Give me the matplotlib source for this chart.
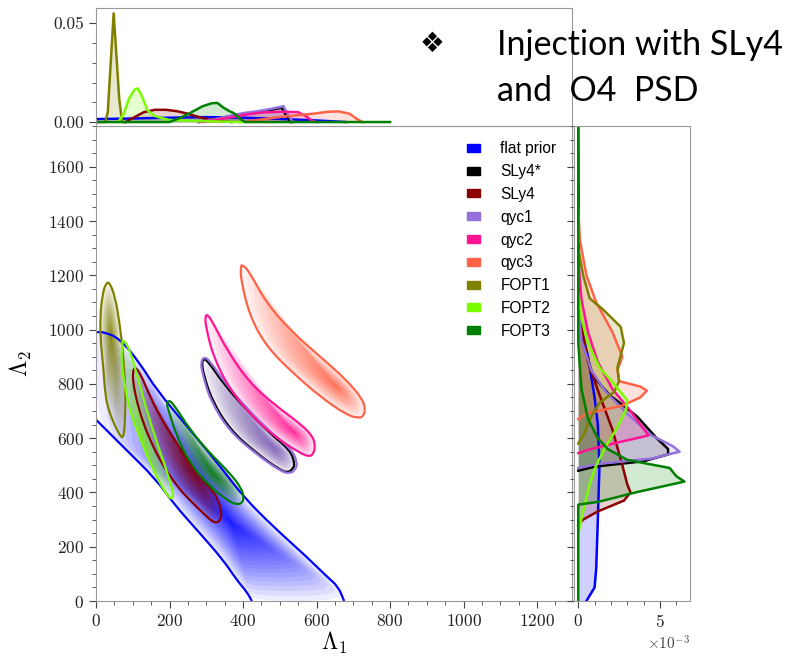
import numpy as np
import matplotlib.pyplot as plt
from matplotlib.patches import Patch, PathPatch
from matplotlib.path import Path
from matplotlib.ticker import MultipleLocator, FormatStrFormatter

plt.rcParams['font.family'] = 'cmr10'
plt.rcParams['mathtext.fontset'] = 'cm'
plt.rcParams['axes.formatter.use_mathtext'] = True

labels = ['flat prior', 'SLy4*', 'SLy4', 'qyc1', 'qyc2', 'qyc3', 'FOPT1', 'FOPT2', 'FOPT3']
colors = ['blue', 'black', 'darkred', 'mediumpurple', 'deeppink', 'tomato', 'olive', 'lawngreen', 'green']

# --- 2D credible contours (Lambda1, Lambda2) ---
prior_up_l1 = [0, 20, 65, 120, 165, 256, 346, 401, 482, 573, 628, 659, 675]
prior_up_l2 = [990, 992, 967, 875, 777, 630, 482, 384, 274, 163, 90, 53, 0]
prior_lo_l1 = [0, 74, 165, 210, 283, 346, 383, 410, 424]
prior_lo_l2 = [668, 568, 446, 360, 249, 151, 77, 34, 0]

sly4s_l1 = [292, 306, 346, 410, 473, 528, 541, 536, 523, 501, 437, 365, 315, 292, 288]
sly4s_l2 = [894, 881, 802, 703, 618, 556, 507, 488, 473, 482, 544, 630, 740, 839, 875]
sly4_l1 = [106, 120, 142, 165, 192, 220, 250, 283, 315, 333, 342, 338, 325, 310, 292, 260,
           229, 200, 174, 150, 129, 112, 101, 100]
sly4_l2 = [863, 839, 770, 703, 640, 581, 518, 458, 410, 372, 324, 296, 287, 300, 323, 365,
           409, 463, 519, 585, 654, 730, 802, 845]
qyc1_l1 = [294, 310, 350, 413, 476, 532, 548, 543, 528, 502, 436, 362, 311, 289, 285]
qyc1_l2 = [900, 885, 805, 706, 621, 559, 510, 485, 469, 478, 541, 627, 739, 840, 880]
qyc2_l1 = [301, 315, 356, 419, 492, 555, 591, 596, 592, 582, 555, 492, 428, 365, 319, 299, 297]
qyc2_l2 = [1057, 1035, 924, 802, 716, 654, 605, 568, 545, 531, 545, 600, 675, 777, 900, 1010, 1045]
qyc3_l1 = [396, 415, 464, 537, 610, 682, 727, 732, 728, 718, 682, 610, 537, 464, 419, 394, 394]
qyc3_l2 = [1240, 1219, 1096, 986, 900, 814, 740, 703, 684, 673, 685, 753, 838, 937, 1047, 1182, 1230]
fopt1_l1 = [36, 52, 64, 73, 79, 80, 79, 77, 73, 64, 50, 35, 25, 20, 13, 11, 18, 27]
fopt1_l2 = [1176, 1121, 1023, 924, 802, 740, 680, 630, 599, 612, 650, 700, 760, 860, 949, 1047, 1133, 1170]
fopt2_l1 = [74, 92, 105, 120, 138, 158, 179, 198, 210, 208, 197, 180, 165, 147, 129, 110, 92, 80, 70, 70]
fopt2_l2 = [967, 924, 863, 790, 703, 615, 531, 455, 397, 375, 384, 420, 458, 512, 568, 635, 703, 780, 863, 935]
fopt3_l1 = [197, 210, 256, 310, 365, 396, 402, 398, 383, 356, 310, 256, 220, 197, 192]
fopt3_l2 = [740, 728, 630, 544, 470, 415, 380, 362, 354, 372, 421, 507, 605, 703, 725]

# densest point of each 2D posterior
peaks = [(370, 285), (480, 570), (270, 470), (490, 560), (540, 620),
         (655, 790), (40, 980), (125, 600), (320, 465)]
shade_alpha = [0.07, 0.025, 0.07, 0.06, 0.07, 0.07, 0.07, 0.06, 0.07]

# --- marginal of Lambda1 (top panel) ---
top_prior_x = [0, 100, 200, 300, 400, 500, 600, 680]
top_prior_y = [0.0015, 0.0018, 0.0022, 0.0025, 0.0022, 0.0016, 0.0008, 0]
top_sly4s_x = [280, 320, 360, 400, 440, 480, 505, 515, 530]
top_sly4s_y = [0, 0.0012, 0.0028, 0.004, 0.005, 0.0063, 0.0073, 0.004, 0]
top_sly4_x = [80, 100, 130, 160, 190, 220, 250, 280, 310, 340, 370]
top_sly4_y = [0, 0.002, 0.005, 0.0062, 0.0062, 0.0055, 0.0042, 0.0025, 0.0012, 0.0004, 0]
top_qyc1_x = [280, 320, 360, 400, 440, 480, 510, 520, 535]
top_qyc1_y = [0, 0.0013, 0.003, 0.0045, 0.0055, 0.0068, 0.008, 0.0045, 0]
top_qyc2_x = [290, 330, 370, 410, 450, 500, 550, 570, 590, 600]
top_qyc2_y = [0, 0.0012, 0.0025, 0.0038, 0.0048, 0.0052, 0.005, 0.003, 0.0005, 0]
top_qyc3_x = [390, 430, 470, 510, 550, 590, 630, 660, 690, 710, 725]
top_qyc3_y = [0, 0.0008, 0.0018, 0.0028, 0.0035, 0.0042, 0.0052, 0.0054, 0.0042, 0.0015, 0]
top_fopt1_x = [0, 25, 32, 40, 48, 55, 63, 71, 80]
top_fopt1_y = [0, 0, 0.005, 0.03, 0.055, 0.035, 0.012, 0, 0]
top_fopt2_x = [60, 75, 90, 105, 114, 125, 140, 160, 200, 300, 400]
top_fopt2_y = [0, 0.004, 0.012, 0.0165, 0.017, 0.013, 0.006, 0.003, 0.001, 0.0004, 0]
top_fopt3_x = [0, 200, 230, 260, 290, 315, 330, 345, 360, 375, 390, 405, 800]
top_fopt3_y = [0, 0, 0.0022, 0.005, 0.008, 0.0095, 0.0097, 0.0075, 0.0058, 0.0045, 0.002, 0, 0]

# --- marginal of Lambda2 (right panel) ---
rt_prior_y = [0, 50, 120, 300, 500, 650, 750, 900, 1000, 1100, 1750]
rt_prior_x = [0.0005, 0.001, 0.0011, 0.0012, 0.0013, 0.0012, 0.001, 0.0006, 0.0002, 0.00005, 0]
rt_sly4s_y = [480, 495, 515, 540, 560, 600, 680, 760, 830, 950, 1080]
rt_sly4s_x = [0, 0.001, 0.004, 0.0055, 0.0055, 0.0048, 0.0036, 0.0019, 0.0009, 0.0003, 0]
rt_sly4_y = [280, 300, 330, 370, 400, 430, 500, 630, 760, 880, 1010, 1100]
rt_sly4_x = [0, 0.0003, 0.0012, 0.0028, 0.0032, 0.003, 0.0027, 0.0021, 0.0013, 0.0006, 0.0002, 0]
rt_qyc1_y = [490, 505, 525, 550, 570, 610, 690, 770, 850, 960, 1080]
rt_qyc1_x = [0, 0.0012, 0.0045, 0.0062, 0.0058, 0.0045, 0.003, 0.0017, 0.0008, 0.0002, 0]
rt_qyc2_y = [545, 560, 585, 610, 650, 700, 780, 880, 990, 1110, 1250]
rt_qyc2_x = [0, 0.0008, 0.0025, 0.0043, 0.0038, 0.0032, 0.0021, 0.0012, 0.0006, 0.0002, 0]
rt_qyc3_y = [670, 690, 720, 750, 775, 790, 810, 850, 900, 990, 1100, 1200, 1330, 1450]
rt_qyc3_x = [0, 0.0005, 0.0027, 0.0038, 0.0042, 0.0038, 0.0025, 0.0024, 0.0027, 0.0021, 0.0011, 0.0005, 0.0001, 0]
rt_fopt1_y = [580, 620, 680, 730, 770, 810, 860, 950, 1010, 1075, 1115, 1200, 1300]
rt_fopt1_x = [0, 0.0004, 0.0008, 0.0013, 0.0022, 0.0025, 0.0024, 0.0028, 0.0026, 0.0015, 0.0007, 0.0003, 0]
rt_fopt2_y = [250, 330, 430, 500, 570, 640, 700, 740, 800, 860, 950, 1040, 1140]
rt_fopt2_x = [0, 0.0003, 0.0007, 0.0011, 0.0017, 0.0024, 0.0029, 0.003, 0.0022, 0.0013, 0.0006, 0.0002, 0]
rt_fopt3_y = [0, 355, 365, 380, 400, 420, 440, 460, 490, 520, 560, 600, 670, 780, 950, 1750]
rt_fopt3_x = [0, 0, 0.0012, 0.0022, 0.0035, 0.005, 0.0065, 0.006, 0.0056, 0.003, 0.0018, 0.0012, 0.0006, 0.0002, 0, 0]

contours = [
    (prior_up_l1 + prior_lo_l1[::-1], prior_up_l2 + prior_lo_l2[::-1]),
    (sly4s_l1, sly4s_l2), (sly4_l1, sly4_l2), (qyc1_l1, qyc1_l2),
    (qyc2_l1, qyc2_l2), (qyc3_l1, qyc3_l2), (fopt1_l1, fopt1_l2),
    (fopt2_l1, fopt2_l2), (fopt3_l1, fopt3_l2),
]
tops = [(top_prior_x, top_prior_y), (top_sly4s_x, top_sly4s_y), (top_sly4_x, top_sly4_y),
        (top_qyc1_x, top_qyc1_y), (top_qyc2_x, top_qyc2_y), (top_qyc3_x, top_qyc3_y),
        (top_fopt1_x, top_fopt1_y), (top_fopt2_x, top_fopt2_y), (top_fopt3_x, top_fopt3_y)]
rights = [(rt_prior_x, rt_prior_y), (rt_sly4s_x, rt_sly4s_y), (rt_sly4_x, rt_sly4_y),
          (rt_qyc1_x, rt_qyc1_y), (rt_qyc2_x, rt_qyc2_y), (rt_qyc3_x, rt_qyc3_y),
          (rt_fopt1_x, rt_fopt1_y), (rt_fopt2_x, rt_fopt2_y), (rt_fopt3_x, rt_fopt3_y)]


def closed_path(x, y):
    # smooth closed curve with the read points as quadratic control points
    p = np.column_stack([x, y]).astype(float)
    m = (p + np.roll(p, -1, axis=0)) / 2
    verts, codes = [m[-1]], [Path.MOVETO]
    for i in range(len(p)):
        verts += [p[i], m[i]]
        codes += [Path.CURVE3, Path.CURVE3]
    return np.array(verts), codes


def open_path(x, y):
    p = np.column_stack([x, y]).astype(float)
    m = (p[:-1] + p[1:]) / 2
    verts, codes = [p[0], m[0]], [Path.MOVETO, Path.LINETO]
    for i in range(1, len(p) - 1):
        verts += [p[i], m[i]]
        codes += [Path.CURVE3, Path.CURVE3]
    verts.append(p[-1])
    codes.append(Path.LINETO)
    return Path(np.array(verts), codes)


fig = plt.figure(figsize=(7.89, 6.59), dpi=100)
ax = fig.add_axes([0.1217, 0.088, 0.6033, 0.7208])
axt = fig.add_axes([0.1217, 0.8088, 0.6033, 0.1791], sharex=ax)
axr = fig.add_axes([0.7275, 0.088, 0.147, 0.7208], sharey=ax)

# shaded densities: nested shrunken copies of each contour around its peak
for (cx, cy), pk, c, a in zip(contours, peaks, colors, shade_alpha):
    verts, codes = closed_path(cx, cy)
    pk = np.array(pk, float)
    for k in range(30):
        s = (1 - k / 30) ** 2
        ax.add_patch(PathPatch(Path(pk + s * (verts - pk), codes), facecolor=c,
                               edgecolor='none', alpha=a))

# contour lines
for lx, ly in [(prior_up_l1, prior_up_l2), (prior_lo_l1, prior_lo_l2)]:
    ax.add_patch(PathPatch(open_path(lx, ly), facecolor='none', edgecolor='blue', lw=1.6))
for (cx, cy), c in list(zip(contours, colors))[1:]:
    verts, codes = closed_path(cx, cy)
    ax.add_patch(PathPatch(Path(verts, codes), facecolor='none', edgecolor=c, lw=1.6))

for (x, y), c in zip(tops, colors):
    axt.fill_between(x, 0, y, color=c, alpha=0.18, lw=0)
    axt.plot(x, y, color=c, lw=1.8)
for (x, y), c in zip(rights, colors):
    axr.fill_betweenx(y, 0, x, color=c, alpha=0.18, lw=0)
    axr.plot(x, y, color=c, lw=1.8)

ax.set_xlim(0, 1295)
ax.set_ylim(0, 1750)
axt.set_ylim(-0.002, 0.0577)
axr.set_xlim(-0.00026, 0.00684)

ax.xaxis.set_major_locator(MultipleLocator(200))
ax.xaxis.set_minor_locator(MultipleLocator(50))
ax.yaxis.set_major_locator(MultipleLocator(200))
ax.yaxis.set_minor_locator(MultipleLocator(50))
axt.yaxis.set_major_locator(MultipleLocator(0.05))
axt.yaxis.set_minor_locator(MultipleLocator(0.01))
axt.yaxis.set_major_formatter(FormatStrFormatter('%.2f'))
axr.xaxis.set_major_locator(MultipleLocator(0.005))
axr.xaxis.set_minor_locator(MultipleLocator(0.001))
axr.ticklabel_format(axis='x', style='sci', scilimits=(0, 0), useMathText=True)

for a in (ax, axt, axr):
    a.tick_params(which='both', direction='out', color='#444444', labelsize=12.5,
                  top=False, right=False, labelcolor='#222222')
    a.tick_params(which='major', length=5)
    a.tick_params(which='minor', length=3)
    for sp in a.spines.values():
        sp.set_color('#999999')
axt.tick_params(which='both', bottom=False, labelbottom=False)
axr.tick_params(which='both', labelleft=False)
axr.xaxis.get_offset_text().set_fontsize(11)
axr.xaxis.get_offset_text().set_color('#444444')

ax.set_xlabel(r'$\Lambda_1$', fontsize=17, labelpad=1)
ax.set_ylabel(r'$\Lambda_2$', fontsize=17, labelpad=10)

handles = [Patch(facecolor=c, edgecolor=c) for c in colors]
ax.legend(handles, labels, loc='upper right', bbox_to_anchor=(0.997, 0.997), frameon=False,
          prop={'family': 'Liberation Sans', 'size': 11.2}, handlelength=0.85,
          handleheight=0.42, labelspacing=0.5, handletextpad=1.3)

fig.text(432 / 789, 1 - 44 / 659, '\u2756', family='DejaVu Sans', fontsize=20,
         ha='center', va='center')
fig.text(497 / 789, 1 - 45 / 659, 'Injection with SLy4', family=['Lato', 'DejaVu Sans'],
         fontsize=24.5, ha='left', va='center')
fig.text(497 / 789, 1 - 91 / 659, 'and  O4  PSD', family=['Lato', 'DejaVu Sans'],
         fontsize=24.5, ha='left', va='center')

fig.savefig('out.png', dpi=100)
